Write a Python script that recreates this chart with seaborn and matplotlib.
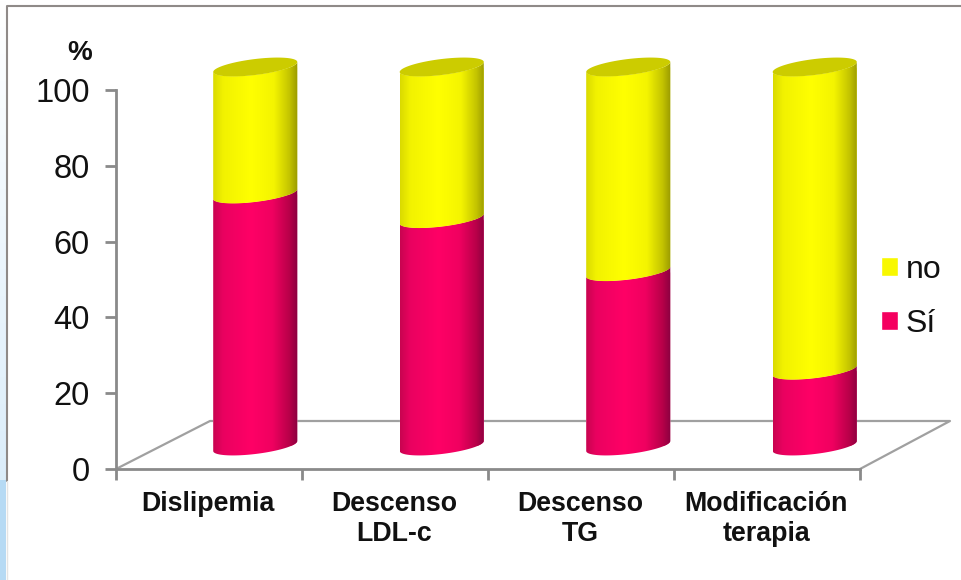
import numpy as np
import matplotlib
matplotlib.use("Agg")
import matplotlib.pyplot as plt
from matplotlib.colors import LinearSegmentedColormap
from matplotlib.patches import Polygon, Rectangle
from matplotlib.lines import Line2D
import seaborn as sns

# Chart data
categories = ["Dislipemia", "Descenso\nLDL-c", "Descenso\nTG", "Modificación\nterapia"]
si_values = [66.5, 60, 46, 20]
no_values = [33.5, 40, 54, 80]
y_ticks = [0, 20, 40, 60, 80, 100]

RED = "#f5005f"
YELLOW = "#f8f800"
CAP = "#cccc00"
AXIS_GREY = "#8a8a8a"
FLOOR_GREY = "#a0a0a0"

W, H = 962, 580
sns.set_theme(style="white")
plt.rcParams["font.family"] = ["Liberation Sans", "DejaVu Sans"]

fig = plt.figure(figsize=(W / 100, H / 100), dpi=100, facecolor="white")


def px_axes(left, top, right, bottom, **kw):
    return fig.add_axes([left / W, 1 - bottom / H, (right - left) / W, (bottom - top) / H], **kw)


# Window frame and the pale blue strip along the left edge
strip = px_axes(0, 0, 6, 580)
strip_rgb = np.ones((580, 1, 3))
ramp = np.clip(np.arange(580) / 480, 0, 1)[:, None]
strip_rgb[..., 0] = 1 - ramp * 0.14
strip_rgb[..., 1] = 1 - ramp * 0.07
strip_rgb[..., 2] = 1 - ramp * 0.02
strip_rgb[480:, 0, :] = matplotlib.colors.to_rgb("#b6daf4")
strip.imshow(strip_rgb, aspect="auto")
strip.axis("off")
fig.add_artist(Line2D([7 / W, 7 / W, 1], [0.17, 1 - 6 / H, 1 - 6 / H], color="#8f8a88", lw=1.5))
fig.add_artist(Line2D([7 / W, 7 / W], [0, 0.17], color="#e4e4e4", lw=1))

# Front axes: value scale, ticks and category labels
ax = px_axes(116, 90, 860, 469)
ax.set_xlim(-0.5, 3.5)
ax.set_ylim(0, 100)
ax.patch.set_alpha(0)
for side in ("top", "right"):
    ax.spines[side].set_visible(False)
for side in ("left", "bottom"):
    ax.spines[side].set_color(AXIS_GREY)
    ax.spines[side].set_linewidth(2)
ax.set_yticks(y_ticks)
ax.set_xticks(np.arange(5) - 0.5, minor=False)
ax.set_xticklabels([""] * 5)
ax.tick_params(axis="both", which="major", length=8, width=2, color=AXIS_GREY, left=True, bottom=True)
ax.tick_params(axis="y", labelsize=23.5, pad=11, labelcolor="#111111")
for i, name in enumerate(categories):
    ax.annotate(name, (i, 0), xytext=(-0.7, -16), xycoords="data", textcoords="offset points",
                ha="center", va="top", fontsize=19.3, fontweight="bold", color="#111111", linespacing=1.2)
fig.text(80 / W, 1 - 53 / H, "%", fontsize=20, fontweight="bold", ha="center", va="center", color="#111111")

# Floor of the 3D box, drawn in the value axes' units
depth_x, depth_y = 94 / 186, 48 / 3.79
floor_x = [-0.5, -0.5 + depth_x, 3.5 + depth_x - 4 / 186, 3.5]
floor_y = [0, depth_y, depth_y, 0]
ax.plot(floor_x, floor_y, color=FLOOR_GREY, lw=1.6, clip_on=False, zorder=1)

# Cylinder axes: same scale, shifted into the depth of the box
cyl = px_axes(162, 67, 908, 446)
cyl.patch.set_alpha(0)
sns.barplot(x=categories, y=si_values, color=RED, width=0.45, saturation=1, ax=cyl)
sns.barplot(x=categories, y=no_values, bottom=si_values, color=YELLOW, width=0.45, saturation=1, ax=cyl)
cyl.axis("off")

half_w = 0.2254
tilt = 5 / 3.79
minor = 8 / 3.79
shade_red = LinearSegmentedColormap.from_list(
    "r", [(0, "#c80450"), (0.12, "#ea0260"), (0.45, "#ff0066"), (0.7, "#f00060"), (0.9, "#b80049"), (1, "#8a0040")])
shade_yel = LinearSegmentedColormap.from_list(
    "y", [(0, "#dada00"), (0.12, "#f2f200"), (0.45, "#ffff00"), (0.72, "#f4f400"), (0.9, "#c4c400"), (1, "#9a9a00")])


def front_arc(xc, v):
    t = np.linspace(0, np.pi, 60)
    return np.column_stack([xc + half_w * np.cos(t), v + tilt * np.cos(t) - minor * np.sin(t)])


def draw_segment(xc, low, high, cmap, bar):
    # Body of one stacked segment: shaded left to right, closed by elliptical arcs
    outline = np.vstack([front_arc(xc, low), front_arc(xc, high)[::-1]])
    shape = Polygon(outline, closed=True, transform=cyl.transData, fc="none", ec="none", clip_on=False)
    cyl.add_patch(shape)
    bar.set_clip_path(shape)
    gradient = np.linspace(0, 1, 256)[None, :]
    img = cyl.imshow(gradient, cmap=cmap, aspect="auto", zorder=3, interpolation="bilinear",
                     extent=(xc - half_w, xc + half_w, low - 6, high + 6))
    # The image reaches past the axes box, so only the segment outline may clip it
    img.set_clip_box(fig.bbox)
    img.set_clip_path(shape)


bars = list(cyl.patches)
for i, (si, no) in enumerate(zip(si_values, no_values)):
    draw_segment(i, 0, si, shade_red, bars[i])
    draw_segment(i, si, si + no, shade_yel, bars[i + len(si_values)])
    t = np.linspace(0, 2 * np.pi, 120)
    top = si + no
    cap = np.column_stack([i + half_w * np.cos(t), top + tilt * np.cos(t) - minor * np.sin(t)])
    cyl.add_patch(Polygon(cap, closed=True, fc=CAP, ec="none", zorder=4, clip_on=False))
cyl.set_xlim(-0.5, 3.5)
cyl.set_ylim(0, 100)

# Legend: yellow entry above the red one
handles = [Rectangle((0, 0), 1, 1, fc=YELLOW), Rectangle((0, 0), 1, 1, fc=RED)]
fig.legend(handles, ["no", "Sí"], loc="center left", bbox_to_anchor=(852 / W, 1 - 297 / H), frameon=False,
           fontsize=23, handlelength=0.55, handleheight=0.55, handletextpad=0.22, labelspacing=0.75,
           labelcolor="#111111")

fig.savefig("out.png", dpi=100, facecolor="white")
